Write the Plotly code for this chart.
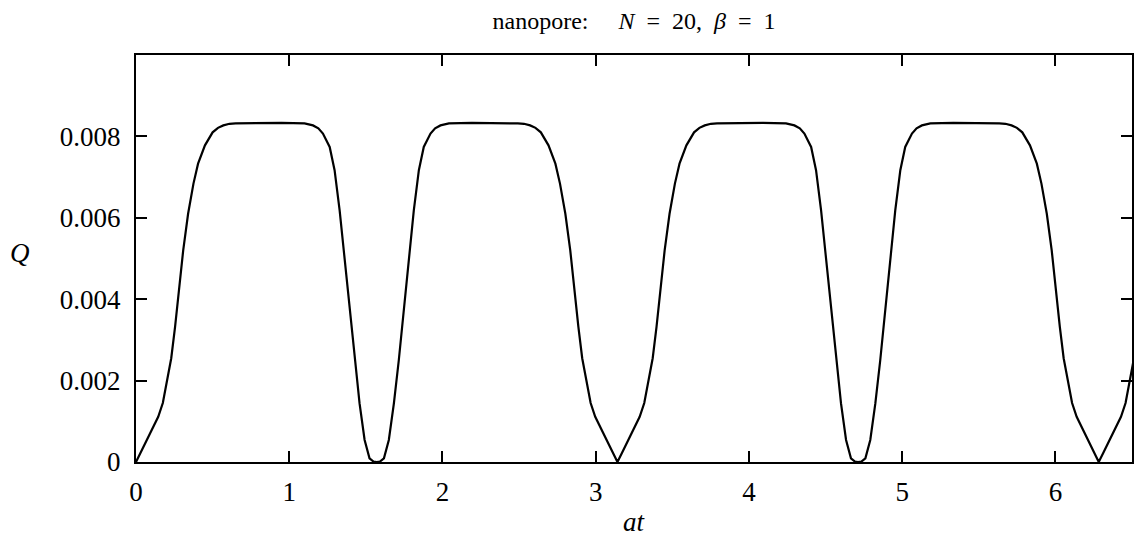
import plotly.graph_objects as go

# Q(at), period ~ pi
at_vals = [
    0.000, 0.030, 0.060, 0.100, 0.145, 0.175, 0.200, 0.230, 0.255, 0.282,
    0.308, 0.340, 0.375, 0.405, 0.450, 0.500, 0.535, 0.570, 0.610, 0.650, 0.800, 0.950,
    1.100, 1.155, 1.190, 1.220, 1.264, 1.296, 1.329, 1.362, 1.394, 1.427,
    1.459, 1.492, 1.524, 1.550, 1.571,
    1.592, 1.618, 1.650, 1.683, 1.715, 1.748, 1.780, 1.813, 1.846, 1.878,
    1.922, 1.952, 1.987, 2.042, 2.192, 2.342, 2.492, 2.532, 2.572, 2.607, 2.642, 2.692,
    2.737, 2.767, 2.802, 2.834, 2.860, 2.887, 2.912, 2.942, 2.967, 2.997,
    3.042, 3.082, 3.112, 3.142,
    3.172, 3.202, 3.242, 3.287, 3.317, 3.342, 3.372, 3.397, 3.424, 3.450,
    3.482, 3.517, 3.547, 3.592, 3.642, 3.677, 3.712, 3.752, 3.792, 3.942, 4.092, 4.242,
    4.297, 4.332, 4.362, 4.406, 4.438, 4.471, 4.504, 4.536, 4.569, 4.601,
    4.634, 4.666, 4.692, 4.712,
    4.734, 4.760, 4.792, 4.825, 4.857, 4.890, 4.922, 4.955, 4.988, 5.020,
    5.064, 5.094, 5.129, 5.184, 5.334, 5.484, 5.634, 5.674, 5.714, 5.749, 5.784, 5.834,
    5.879, 5.909, 5.944, 5.976, 6.002, 6.029, 6.054, 6.084, 6.109, 6.139,
    6.184, 6.224, 6.254, 6.283,
    6.313, 6.343, 6.383, 6.428, 6.458, 6.483, 6.513,
]
q_vals = [
    0.0, 0.00023, 0.00046, 0.00077, 0.00111, 0.00145, 0.00195, 0.00255, 0.00332, 0.00422,
    0.00520, 0.00610, 0.00684, 0.00733, 0.00778, 0.00810, 0.00821, 0.00827, 0.00831, 0.00832, 0.00833, 0.00833,
    0.00832, 0.00827, 0.00820, 0.00807, 0.00774, 0.00717, 0.00618, 0.00496, 0.00373, 0.00250,
    0.00144, 0.00054, 0.00009, 0.00001, 0.0,
    0.00001, 0.00009, 0.00054, 0.00144, 0.00250, 0.00373, 0.00496, 0.00618, 0.00717, 0.00774,
    0.00807, 0.00820, 0.00827, 0.00832, 0.00833, 0.00833, 0.00832, 0.00831, 0.00827, 0.00821, 0.00810, 0.00778,
    0.00733, 0.00684, 0.00610, 0.00520, 0.00422, 0.00332, 0.00255, 0.00195, 0.00145, 0.00111,
    0.00077, 0.00046, 0.00023, 0.0,
    0.00023, 0.00046, 0.00077, 0.00111, 0.00145, 0.00195, 0.00255, 0.00332, 0.00422, 0.00520,
    0.00610, 0.00684, 0.00733, 0.00778, 0.00810, 0.00821, 0.00827, 0.00831, 0.00832, 0.00833, 0.00833, 0.00832,
    0.00827, 0.00820, 0.00807, 0.00774, 0.00717, 0.00618, 0.00496, 0.00373, 0.00250, 0.00144,
    0.00054, 0.00009, 0.00001, 0.0,
    0.00001, 0.00009, 0.00054, 0.00144, 0.00250, 0.00373, 0.00496, 0.00618, 0.00717, 0.00774,
    0.00807, 0.00820, 0.00827, 0.00832, 0.00833, 0.00833, 0.00832, 0.00831, 0.00827, 0.00821, 0.00810, 0.00778,
    0.00733, 0.00684, 0.00610, 0.00520, 0.00422, 0.00332, 0.00255, 0.00195, 0.00145, 0.00111,
    0.00077, 0.00046, 0.00023, 0.0,
    0.00023, 0.00046, 0.00077, 0.00111, 0.00145, 0.00195, 0.00255,
]

x_ticks = [0, 1, 2, 3, 4, 5, 6]
y_ticks = [0, 0.002, 0.004, 0.006, 0.008]
y_tick_text = ["0", "0.002", "0.004", "0.006", "0.008"]

FONT = "Liberation Serif"
SP = "&nbsp;"

fig = go.Figure(
    go.Scatter(
        x=at_vals,
        y=q_vals,
        mode="lines",
        line=dict(color="black", width=2.2),
        showlegend=False,
    )
)

axis_style = dict(
    showgrid=False,
    zeroline=False,
    showline=True,
    linecolor="black",
    linewidth=2,
    mirror="ticks",
    ticks="inside",
    ticklen=11,
    tickwidth=1.5,
    tickcolor="black",
    tickfont=dict(family=FONT, size=27, color="black"),
)

fig.update_xaxes(range=[0, 6.5], tickvals=x_ticks, ticklabelstandoff=5, **axis_style)
fig.update_yaxes(
    range=[0, 0.01], tickvals=y_ticks, ticktext=y_tick_text, ticklabelstandoff=8, **axis_style
)

title = (
    "nanopore:" + SP * 5 + "<i>N</i>" + SP * 2 + "=" + SP * 2 + "20," + SP * 2
    + "<i>β</i>" + SP * 2 + "=" + SP * 2 + "1"
)

fig.update_layout(
    width=1135,
    height=540,
    margin=dict(l=136, r=1, t=55, b=78),
    paper_bgcolor="white",
    plot_bgcolor="white",
    title=dict(
        text=title,
        x=0.5,
        xref="paper",
        xanchor="center",
        y=1 - 21 / 540,
        yanchor="middle",
        font=dict(family=FONT, size=24, color="black"),
    ),
    annotations=[
        dict(
            text="<i>Q</i>",
            xref="paper", yref="paper",
            x=-0.116, y=0.513,
            xanchor="center", yanchor="middle",
            showarrow=False,
            font=dict(family=FONT, size=27, color="black"),
        ),
        dict(
            text="<i>at</i>",
            xref="paper", yref="paper",
            x=0.5, y=-0.19,
            xanchor="center", yanchor="bottom",
            showarrow=False,
            font=dict(family=FONT, size=27, color="black"),
        ),
    ],
)

fig.write_html(
    "out.html",
    config={"displayModeBar": False},
    post_script="document.body.style.margin='0';",
)
